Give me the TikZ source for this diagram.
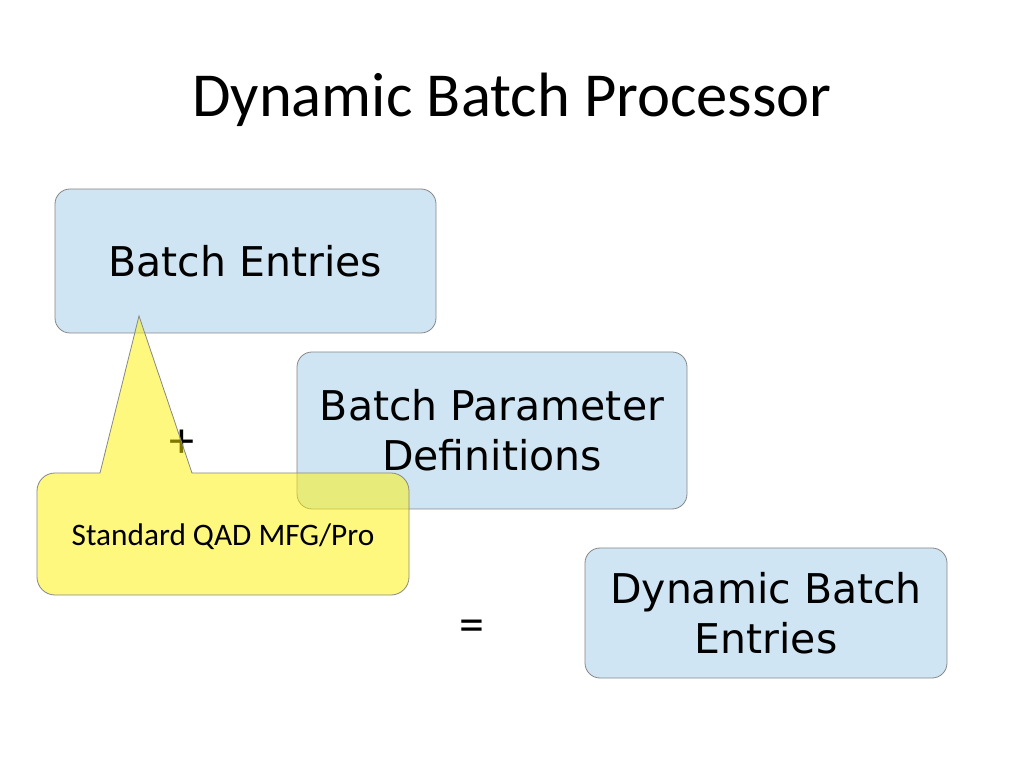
\documentclass[tikz,border=0pt]{standalone}
\usepackage{fontspec}
\setmainfont{Carlito}
\newfontfamily\boxfont{DejaVu Sans}
\definecolor{boxblue}{RGB}{208,229,243}
\definecolor{boxedge}{RGB}{135,135,135}
\tikzset{
  bluebox/.style={draw=boxedge, line width=0.8pt, fill=boxblue, rounded corners=15pt,
    align=center, font=\boxfont\fontsize{41}{50}\selectfont, inner sep=0pt},
  sym/.style={font=\fontsize{50}{56}\selectfont, inner sep=0pt},
}
\begin{document}
\begin{tikzpicture}[x=1pt,y=1pt]
\useasboundingbox (0,0) rectangle (1024,768);
\fill[white] (0,0) rectangle (1024,768);
\node[font=\fontsize{62.6}{70}\selectfont] (title) at (512,668) {Dynamic Batch Processor};
\node[bluebox, minimum width=381pt, minimum height=144pt] (be) at (245.5,507) {Batch Entries};
\node[bluebox, minimum width=390pt, minimum height=157pt] (bpd) at (492,337.5) {Batch Parameter\\Definitions};
\node[bluebox, minimum width=362pt, minimum height=130pt] (dbe) at (766,155) {Dynamic Batch\\Entries};
\node[sym] (plus) at (182,324) {+};
\node[sym] (eq) at (472,137) {=};
\path[fill=yellow, fill opacity=0.5, draw=boxedge, line width=0.8pt]
  (55,295) -- (100,295) -- (139,452) -- (192,295) -- (391,295)
  arc[start angle=90, end angle=0, radius=18] -- (409,191)
  arc[start angle=0, end angle=-90, radius=18] -- (55,173)
  arc[start angle=270, end angle=180, radius=18] -- (37,277)
  arc[start angle=180, end angle=90, radius=18] -- cycle;
\node[font=\fontsize{31.3}{36}\selectfont, inner sep=0pt] (callout) at (223,231) {Standard QAD MFG/Pro};
\end{tikzpicture}
\end{document}
